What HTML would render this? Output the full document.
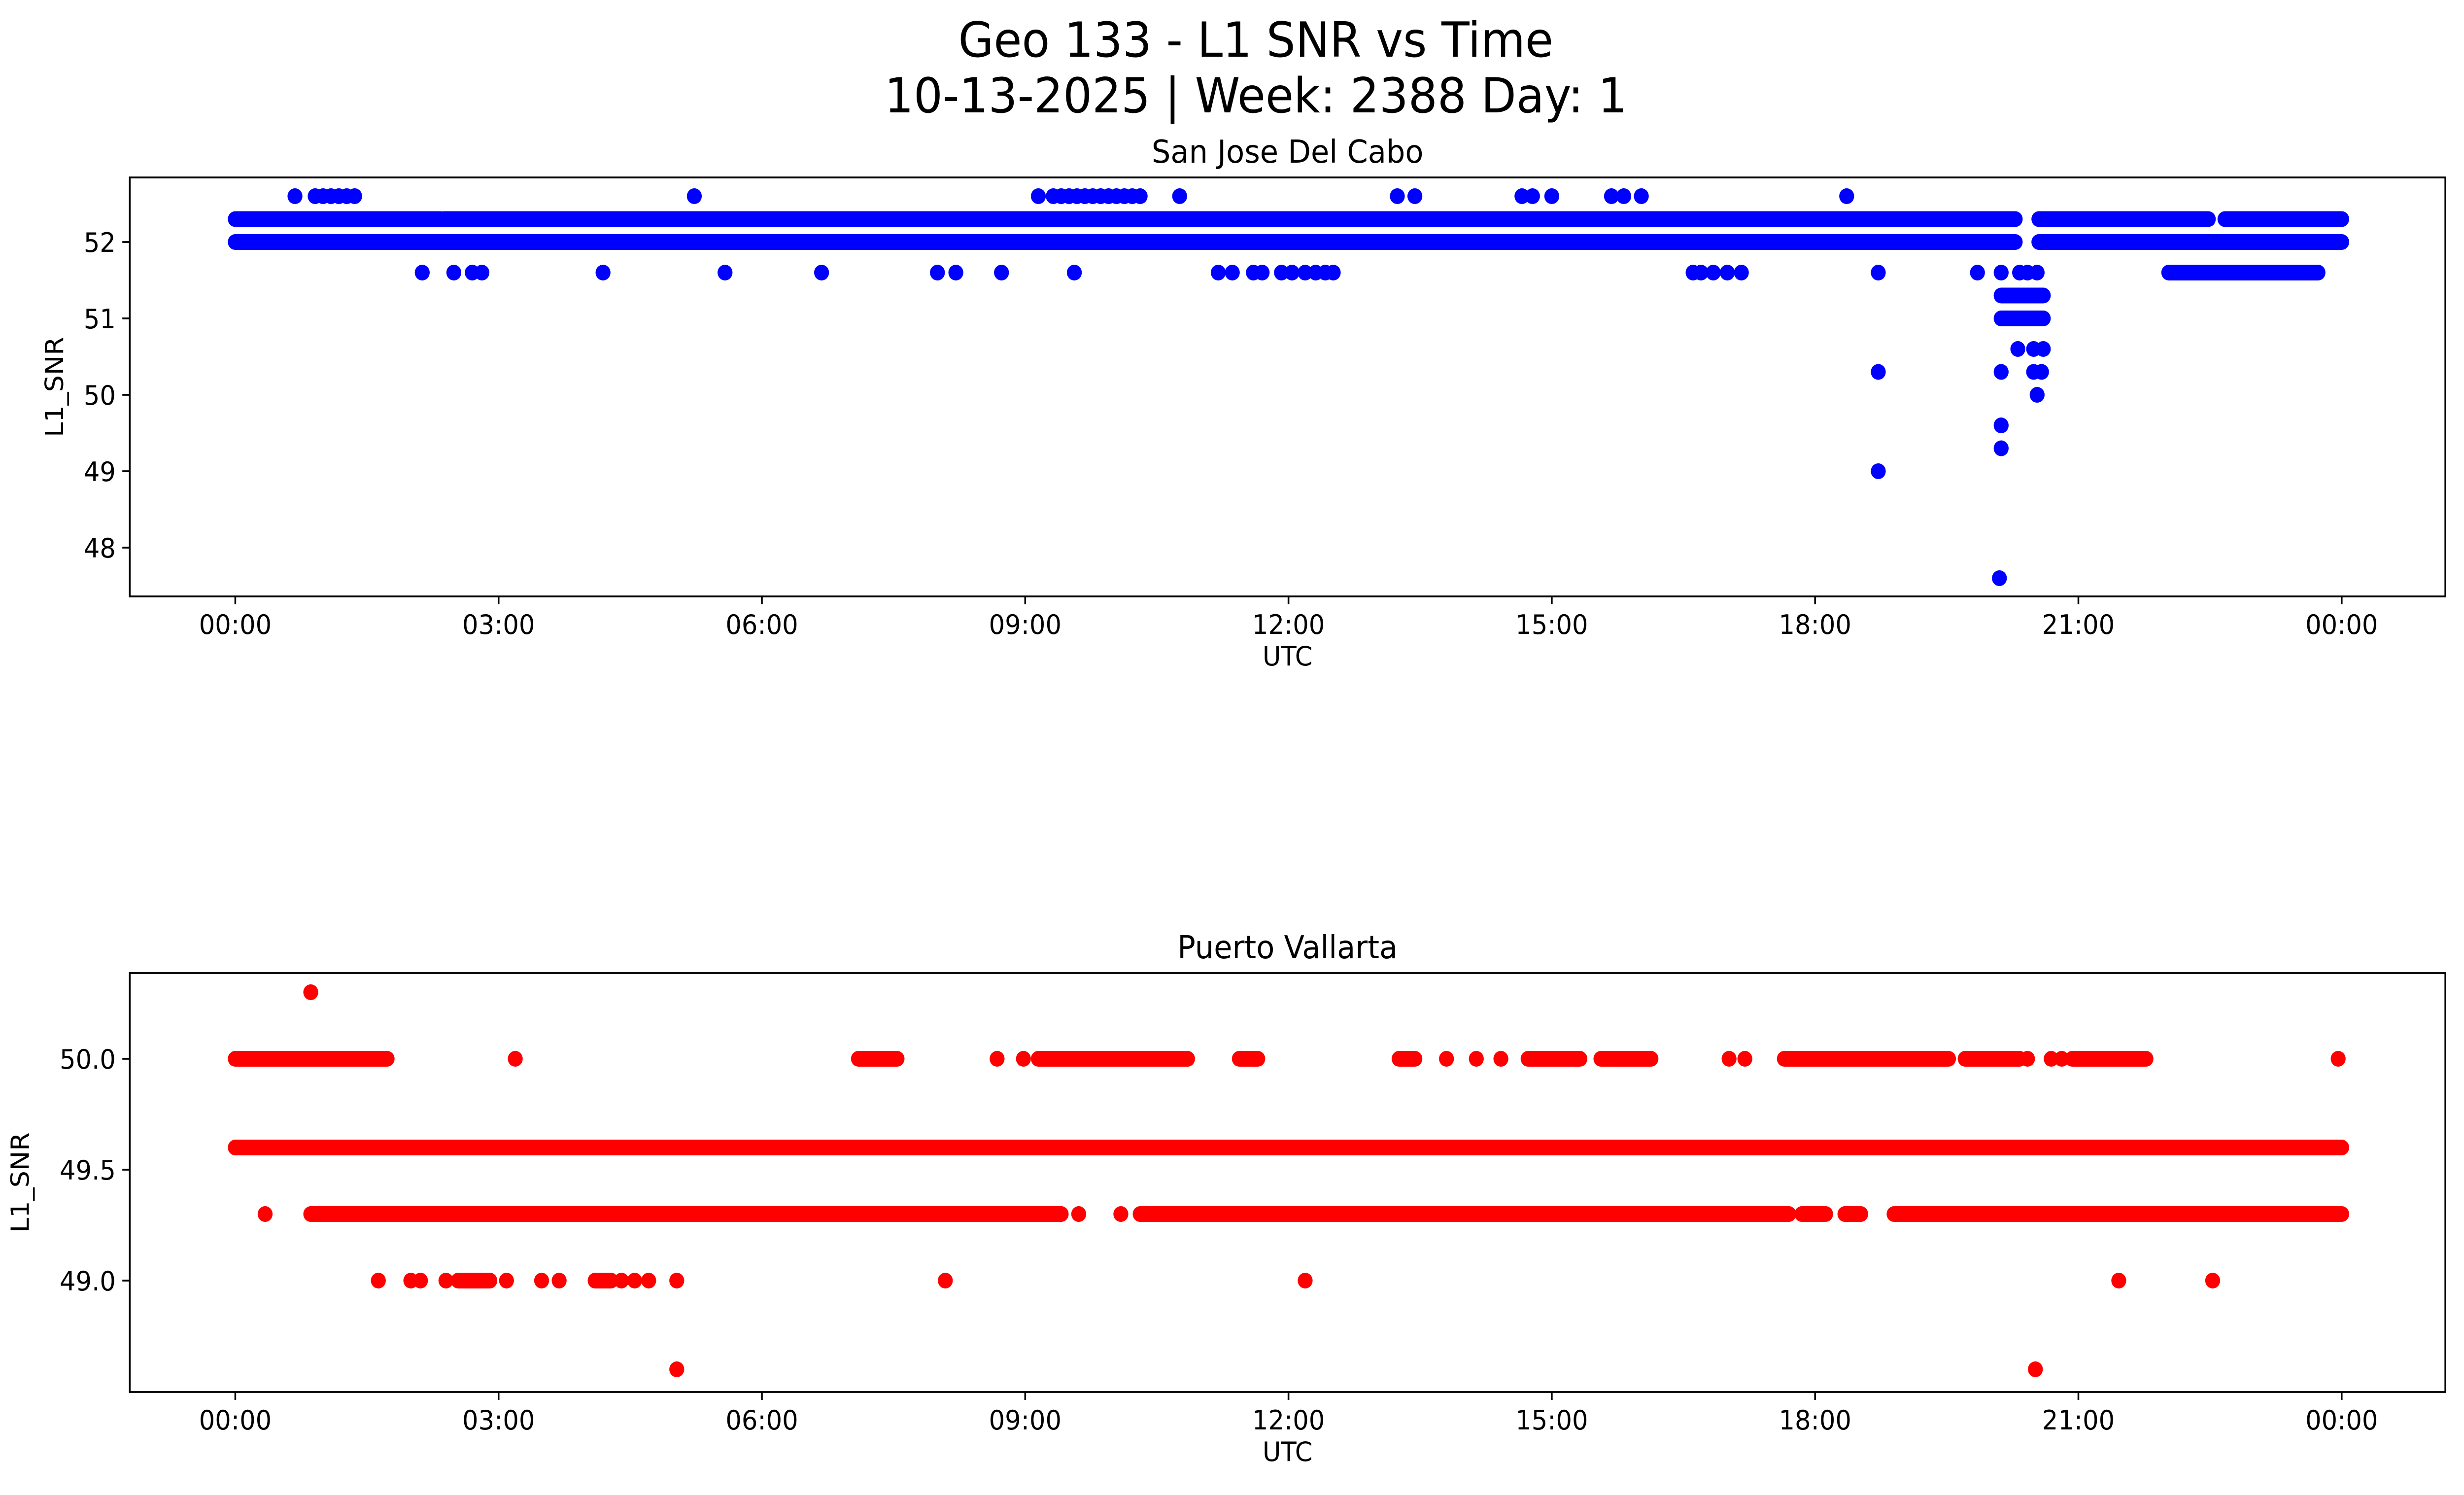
<!DOCTYPE html>
<html><head><meta charset="utf-8"><style>
html,body{margin:0;padding:0;background:#fff;width:100%;height:100%;overflow:hidden;}
svg{display:block;position:absolute;left:0;top:0;width:100vw;height:100vh;font-family:"DejaVu Sans","Liberation Sans",sans-serif;}
</style></head><body>
<svg id="fig" viewBox="0 0 5278 3033" preserveAspectRatio="none" xmlns="http://www.w3.org/2000/svg">
<rect width="5278" height="3033" fill="#fff"/>
<text x="2690" y="115" font-size="98" text-anchor="middle">Geo 133 - L1 SNR vs Time</text>
<text x="2690" y="228" font-size="98" text-anchor="middle">10-13-2025 | Week: 2388 Day: 1</text>
<g id="p1"></g>
<g id="p2"></g>
</svg>
<script>
// ---- San Jose Del Cabo (blue) : hours UTC ----
const sjRunLevels = [52.3, 52.3, 52.3, 52.3, 52.0, 52.0, 51.6, 51.3, 51.0];
const sjRunStart  = [0, 2.38, 20.55, 22.67, 0, 20.55, 22.03, 20.12, 20.12];
const sjRunEnd    = [2.34, 20.28, 22.48, 24, 20.28, 24, 23.73, 20.6, 20.6];
const sj526 = [0.68,0.91,1.0,1.09,1.18,1.27,1.36,5.23,9.15,9.32,9.41,9.5,9.59,9.68,9.77,9.86,9.95,10.04,10.13,10.22,10.31,10.76,13.24,13.44,14.66,14.78,15.0,15.68,15.82,16.02,18.36];
const sj516 = [2.13,2.49,2.7,2.81,4.19,5.58,6.68,8.0,8.21,8.73,9.56,11.2,11.36,11.6,11.7,11.92,12.04,12.19,12.31,12.42,12.51,16.61,16.7,16.84,17.0,17.16,18.72,19.85,20.12,20.33,20.42,20.53];
const sj506 = [20.31,20.49,20.6];
const sj503 = [18.72,20.12,20.49,20.58];
const sj500 = [20.53];
const sj496 = [20.12];
const sj493 = [20.12];
const sj490 = [18.72];
const sj476 = [20.1];
// ---- Puerto Vallarta (red) ----
const pvRunLevels = [50.0,50.0,50.0,50.0,50.0,50.0,50.0,50.0,50.0,50.0,49.6,49.3,49.3,49.3,49.3,49.3,49.0,49.0];
const pvRunStart  = [0,7.1,9.15,11.44,13.26,14.73,15.56,17.65,19.71,20.93,0,0.86,10.31,17.85,18.34,18.9,2.54,4.1];
const pvRunEnd    = [1.73,7.54,10.85,11.65,13.44,15.32,16.13,19.52,20.33,21.77,24,9.41,17.7,18.12,18.52,24,2.9,4.28];
const pv503 = [0.86];
const pv500 = [3.19,8.68,8.98,13.8,14.14,14.42,17.02,17.2,20.42,20.69,20.81,23.96];
const pv493 = [0.34,9.61,10.09];
const pv490 = [1.63,2.0,2.11,2.4,3.09,3.49,3.69,4.4,4.55,4.71,5.03,8.09,12.19,21.46,22.53];
const pv486 = [5.03,20.51];
const xTickLabels = ["00:00","03:00","06:00","09:00","12:00","15:00","18:00","21:00","00:00"];
const sjYTicks = [48,49,50,51,52];
const sjYLabels = ["48","49","50","51","52"];
const pvYTicks = [49.0,49.5,50.0];
const pvYLabels = ["49.0","49.5","50.0"];

const NS="http://www.w3.org/2000/svg";
function mk(tag,attrs,parent){const e=document.createElementNS(NS,tag);for(const k in attrs)e.setAttribute(k,attrs[k]);parent.appendChild(e);return e;}
const X0=504, X1=5016;
function xs(h){return X0+(X1-X0)*h/24;}
const R=16;

function panel(g,cfg){
  const L=278,Rr=5238,T=cfg.top,B=cfg.bottom;
  const ys=v=>cfg.yRef+(cfg.vRef-v)*cfg.ppu;
  const clipId=cfg.id+"clip";
  const cp=mk("clipPath",{id:clipId},g);mk("rect",{x:L,y:T,width:Rr-L,height:B-T},cp);
  const marks=mk("g",{"clip-path":"url(#"+clipId+")",fill:cfg.color},g);
  
  
  cfg.runs.levels.forEach((lv,i)=>{
    const a=xs(cfg.runs.start[i]),b=xs(cfg.runs.end[i]);
    const r=mk("rect",{x:a-R,y:ys(lv)-R,width:b-a+2*R,height:2*R,rx:R,ry:R},marks);
    
    
  });
  cfg.points.forEach(([lv,arr])=>arr.forEach(h=>{
    const c=mk("circle",{cx:xs(h),cy:ys(lv),r:R},marks);
    
    
  }));
  const fr=mk("rect",{x:L,y:T,width:Rr-L,height:B-T,fill:"none",stroke:"#000","stroke-width":3.7},g);
  
  
  xTickLabels.forEach((t,i)=>{
    const x=xs(i*3);
    mk("line",{x1:x,y1:B,x2:x,y2:B+16,stroke:"#000","stroke-width":3.7},g);
    const tx=mk("text",{x:x,y:B+76,"font-size":54,"text-anchor":"middle"},g);tx.textContent=t;
    
    
  });
  cfg.yTicks.forEach((v,i)=>{
    const y=ys(v);
    mk("line",{x1:L-16,y1:y,x2:L,y2:y,stroke:"#000","stroke-width":3.7},g);
    const tx=mk("text",{x:L-30,y:y+20,"font-size":54,"text-anchor":"end"},g);tx.textContent=cfg.yLabels[i];
    
    
  });
  const xl=mk("text",{x:(L+Rr)/2,y:B+140,"font-size":54,"text-anchor":"middle"},g);xl.textContent="UTC";
  
  
  const yl=mk("text",{x:0,y:0,"font-size":54,"text-anchor":"middle",transform:"translate("+cfg.ylx+","+(T+B)/2+") rotate(-90)"},g);yl.textContent="L1_SNR";
  
  
  const st=mk("text",{x:(L+Rr)/2,y:T-30,"font-size":64,"text-anchor":"middle"},g);st.textContent=cfg.title;
  
  
}

panel(document.getElementById("p1"),{id:"sj",top:360,bottom:1210,yRef:491,vRef:52,ppu:155,color:"#0000ff",
  ylx:135,title:"San Jose Del Cabo",yTicks:sjYTicks,yLabels:sjYLabels,
  runs:{levels:sjRunLevels,start:sjRunStart,end:sjRunEnd},
  points:[[52.6,sj526],[51.6,sj516],[50.6,sj506],[50.3,sj503],[50.0,sj500],[49.6,sj496],[49.3,sj493],[49.0,sj490],[47.6,sj476]]});
panel(document.getElementById("p2"),{id:"pv",top:1974,bottom:2824,yRef:2148,vRef:50,ppu:450,color:"#ff0000",
  ylx:62,title:"Puerto Vallarta",yTicks:pvYTicks,yLabels:pvYLabels,
  runs:{levels:pvRunLevels,start:pvRunStart,end:pvRunEnd},
  points:[[50.3,pv503],[50.0,pv500],[49.3,pv493],[49.0,pv490],[48.6,pv486]]});
</script>
</body></html>
